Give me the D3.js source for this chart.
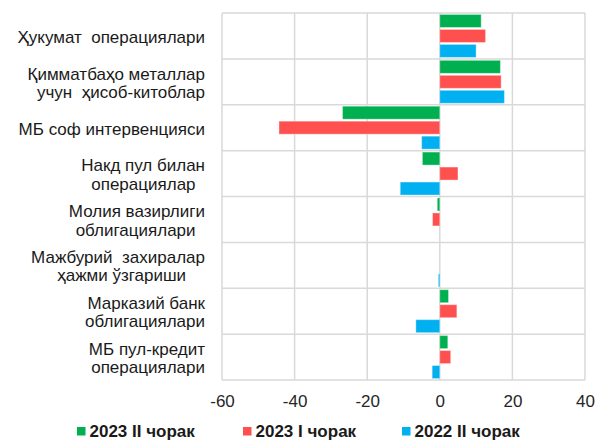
<!DOCTYPE html>
<html>
<head>
<meta charset="utf-8">
<script src="https://cdn.jsdelivr.net/npm/d3@7"></script>
<style>
  html, body { margin: 0; padding: 0; background: #fff; }
  svg { display: block; font-family: "Liberation Sans", Arial, sans-serif; }
  text { white-space: pre; }
</style>
</head>
<body>
<svg id="chart" width="595" height="441"></svg>
<script>
// Category labels (each entry = lines of the label)
const categories = [
  ["Ҳукумат  операциялари"],
  ["Қимматбаҳо металлар", "учун  ҳисоб-китоблар"],
  ["МБ соф интервенцияси"],
  ["Накд пул билан", "операциялар  "],
  ["Молия вазирлиги", "облигациялари  "],
  ["Мажбурий  захиралар", "ҳажми ўзгариши    "],
  ["Марказий банк", "облигациялари"],
  ["МБ пул-кредит", "операциялари"]
];

const seriesNames = ["2023 II чорак", "2023 I чорак", "2022 II чорак"];
const seriesColors = ["#00b050", "#ff5050", "#00b0f0"];

const q2_2023 = [11.4, 16.7, -26.8, -4.8, -0.7, 0.0, 2.4, 2.2];
const q1_2023 = [12.6, 16.9, -44.3, 5.0, -2.0, 0.0, 4.7, 3.0];
const q2_2022 = [10.0, 17.8, -5.0, -10.9, 0.0, -0.4, -6.6, -2.1];
const seriesValues = [q2_2023, q1_2023, q2_2022];

const xTicks = [-60, -40, -20, 0, 20, 40];

const svg = d3.select("#chart");
const plot = { left: 222, right: 585, top: 13, bottom: 380 };

const x = d3.scaleLinear().domain([-60, 40]).range([plot.left, plot.right]);
const y = d3.scaleBand().domain(d3.range(categories.length))
  .range([plot.top, plot.bottom]).paddingInner(0).paddingOuter(0);
const ySub = d3.scaleBand().domain(d3.range(seriesNames.length))
  .range([0, y.bandwidth()]).paddingInner(0.133).paddingOuter(0.097);

const grid = svg.append("g").attr("stroke", "#d9d9d9").attr("stroke-width", 1.5);
// vertical gridlines at ticks
grid.selectAll("line.v").data(xTicks).join("line")
  .attr("x1", d => x(d)).attr("x2", d => x(d))
  .attr("y1", plot.top).attr("y2", plot.bottom);
// horizontal lines separating categories
const bounds = d3.range(categories.length + 1).map(i => plot.top + i * y.step());
grid.selectAll("line.h").data(bounds).join("line")
  .attr("x1", plot.left).attr("x2", plot.right)
  .attr("y1", d => d).attr("y2", d => d);

// bars
const rows = [];
categories.forEach((c, i) => {
  seriesValues.forEach((vals, s) => rows.push({ cat: i, s, v: vals[i] }));
});
svg.append("g").selectAll("rect").data(rows.filter(d => d.v !== 0)).join("rect")
  .attr("x", d => x(Math.min(0, d.v)))
  .attr("width", d => Math.abs(x(d.v) - x(0)))
  .attr("y", d => y(d.cat) + ySub(d.s))
  .attr("height", ySub.bandwidth())
  .attr("fill", d => seriesColors[d.s])
  .attr("stroke", "rgba(255,255,255,0.35)")
  .attr("stroke-width", 1);

// x axis tick labels (plain hyphen for negatives)
const xAxis = d3.axisBottom(x).tickValues(xTicks).tickSize(0).tickPadding(0)
  .tickFormat(d => String(d));
const ax = svg.append("g").attr("transform", `translate(0, 406.5)`).call(xAxis);
ax.select(".domain").remove();
ax.selectAll("text").attr("font-size", 17).attr("fill", "#262626")
  .attr("font-family", "Liberation Sans, Arial, sans-serif").attr("y", 0).attr("dy", null);

// category labels
const lineH = 18.4;
const labels = svg.append("g").attr("font-size", 17).attr("fill", "#1a1a1a").attr("text-anchor", "end");
categories.forEach((lines, i) => {
  const cy = y(i) + y.bandwidth() / 2 + 1;
  const t = labels.append("text").attr("x", 205)
    .attr("y", cy - (lines.length - 1) * lineH / 2);
  lines.forEach((ln, k) => {
    t.append("tspan").attr("x", 205).attr("dy", k === 0 ? "0.35em" : lineH).text(ln);
  });
});

// legend
const legendX = [77, 243, 402];
const lg = svg.append("g");
seriesNames.forEach((n, s) => {
  lg.append("rect").attr("x", legendX[s]).attr("y", 427).attr("width", 8.5).attr("height", 8.5)
    .attr("fill", seriesColors[s]);
  lg.append("text").attr("x", legendX[s] + 12.5).attr("y", 437)
    .attr("font-size", 17).attr("font-weight", "bold").attr("fill", "#1a1a1a").text(n);
});
</script>
</body>
</html>
